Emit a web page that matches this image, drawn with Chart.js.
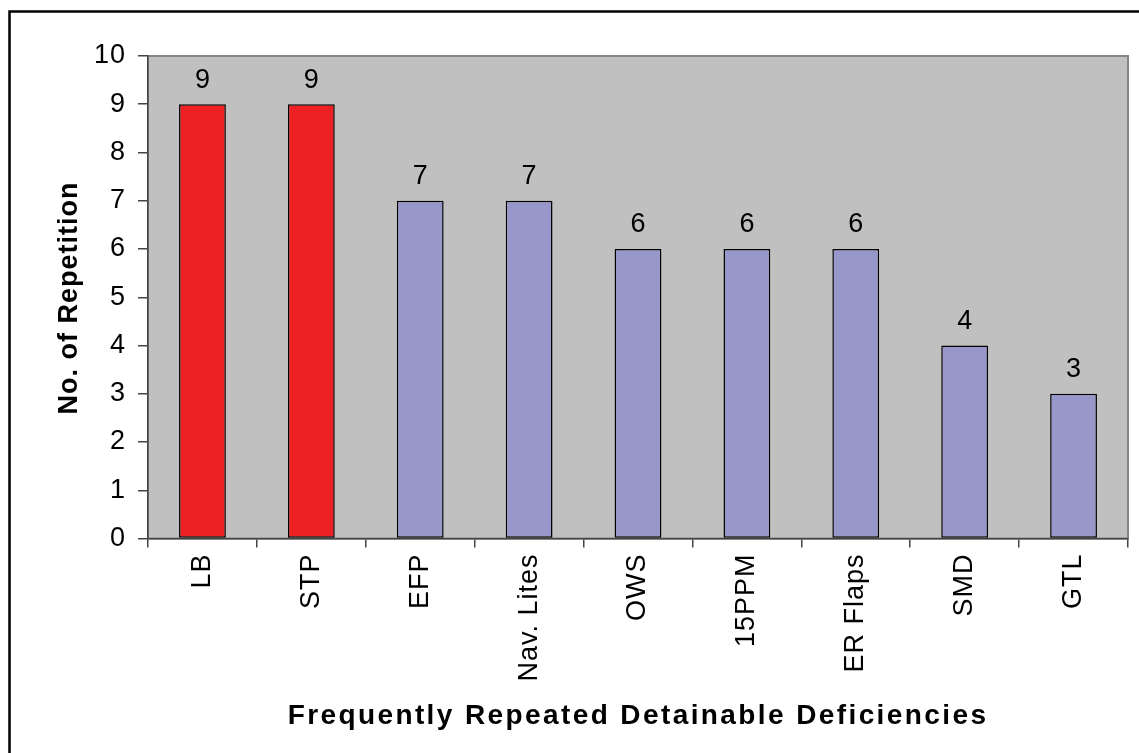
<!DOCTYPE html>
<html>
<head>
<meta charset="utf-8">
<title>Frequently Repeated Detainable Deficiencies</title>
<script src="https://cdn.jsdelivr.net/npm/chart.js@4/dist/chart.umd.min.js"></script>
<style>
  html, body { margin: 0; padding: 0; background: #ffffff; }
  #wrap { width: 1139px; height: 753px; position: relative; }
</style>
</head>
<body>
<div id="wrap"><canvas id="chart" width="1139" height="753"></canvas></div>
<script>
// Deficiency codes and how often each one was repeated
const categories = ['LB', 'STP', 'EFP', 'Nav. Lites', 'OWS', '15PPM', 'ER Flaps', 'SMD', 'GTL'];
const repetitions = [9, 9, 7, 7, 6, 6, 6, 4, 3];
// The two most frequent items are highlighted
const highlighted = ['LB', 'STP'];
const yTicks = [0, 1, 2, 3, 4, 5, 6, 7, 8, 9, 10];

const xTitle = 'Frequently Repeated Detainable Deficiencies';
const yTitle = 'No. of Repetition';

const RED = '#ED2024';
const PURPLE = '#9797CA';
const FONT = "'Liberation Sans', Arial, sans-serif";

const barColors = categories.map(c => highlighted.includes(c) ? RED : PURPLE);

// Outer frame, grey plot background and plot border
const framePlugin = {
  id: 'frame',
  beforeDraw(chart) {
    const { ctx, chartArea: a } = chart;
    ctx.save();
    ctx.fillStyle = '#ffffff';
    ctx.fillRect(0, 0, chart.width, chart.height);
    ctx.strokeStyle = '#000000';
    ctx.lineWidth = 2.5;
    ctx.strokeRect(9.5, 11.5, chart.width + 20, chart.height + 20);
    ctx.fillStyle = '#C0C0C0';
    ctx.fillRect(a.left, a.top, a.right - a.left, a.bottom - a.top);
    ctx.strokeStyle = '#858585';
    ctx.lineWidth = 2;
    ctx.strokeRect(a.left, a.top, a.right - a.left, a.bottom - a.top);
    ctx.restore();
    // slightly widened text, as in the axis labels
    ctx.letterSpacing = '1px';
  },
  afterDraw(chart) {
    const { ctx } = chart;
    ctx.save();
    ctx.fillStyle = '#000000';
    ctx.textAlign = 'center';
    ctx.textBaseline = 'middle';
    // x-axis title
    ctx.letterSpacing = '2.4px';
    ctx.font = 'bold 28px ' + FONT;
    ctx.fillText(xTitle, 638, 716);
    // y-axis title
    ctx.letterSpacing = '1px';
    ctx.font = 'bold 27px ' + FONT;
    ctx.translate(70, 298);
    ctx.rotate(-Math.PI / 2);
    ctx.fillText(yTitle, 0, 0);
    ctx.restore();
    ctx.letterSpacing = '0px';
  }
};

// Value printed above each bar
const valueLabels = {
  id: 'valueLabels',
  afterDatasetsDraw(chart) {
    const { ctx } = chart;
    const meta = chart.getDatasetMeta(0);
    ctx.save();
    ctx.letterSpacing = '0px';
    ctx.fillStyle = '#000000';
    ctx.font = '27px ' + FONT;
    ctx.textAlign = 'center';
    ctx.textBaseline = 'middle';
    meta.data.forEach((bar, i) => {
      ctx.fillText(String(repetitions[i]), bar.x, bar.y - 24);
    });
    ctx.restore();
  }
};

new Chart(document.getElementById('chart'), {
  type: 'bar',
  data: {
    labels: categories,
    datasets: [{
      data: repetitions,
      backgroundColor: barColors,
      borderColor: '#000000',
      borderWidth: 1.5,
      borderSkipped: false,
      categoryPercentage: 1.0,
      barPercentage: 0.43
    }]
  },
  options: {
    responsive: false,
    animation: false,
    devicePixelRatio: 1,
    layout: { padding: { left: 0, top: 56, right: 11, bottom: 0 } },
    plugins: {
      legend: { display: false },
      tooltip: { enabled: false },
      title: { display: false }
    },
    scales: {
      x: {
        grid: {
          offset: true,
          drawOnChartArea: false,
          drawTicks: true,
          tickLength: 9,
          color: '#444444',
          lineWidth: 1.5
        },
        border: { display: true, color: '#444444', width: 1.5 },
        ticks: {
          color: '#000000',
          font: { family: FONT, size: 27 },
          minRotation: 90,
          maxRotation: 90,
          autoSkip: false,
          padding: 6
        },
        afterFit(scale) { scale.height = 214.5; }
      },
      y: {
        min: 0,
        max: 10,
        afterBuildTicks(scale) { scale.ticks = yTicks.map(v => ({ value: v })); },
        grid: {
          drawOnChartArea: false,
          drawTicks: true,
          tickLength: 10,
          color: '#444444',
          lineWidth: 1.5
        },
        border: { display: true, color: '#444444', width: 1.5 },
        ticks: {
          color: '#000000',
          font: { family: FONT, size: 27 },
          padding: 12
        },
        afterFit(scale) { scale.width = 148; }
      }
    }
  },
  plugins: [framePlugin, valueLabels]
});
</script>
</body>
</html>
